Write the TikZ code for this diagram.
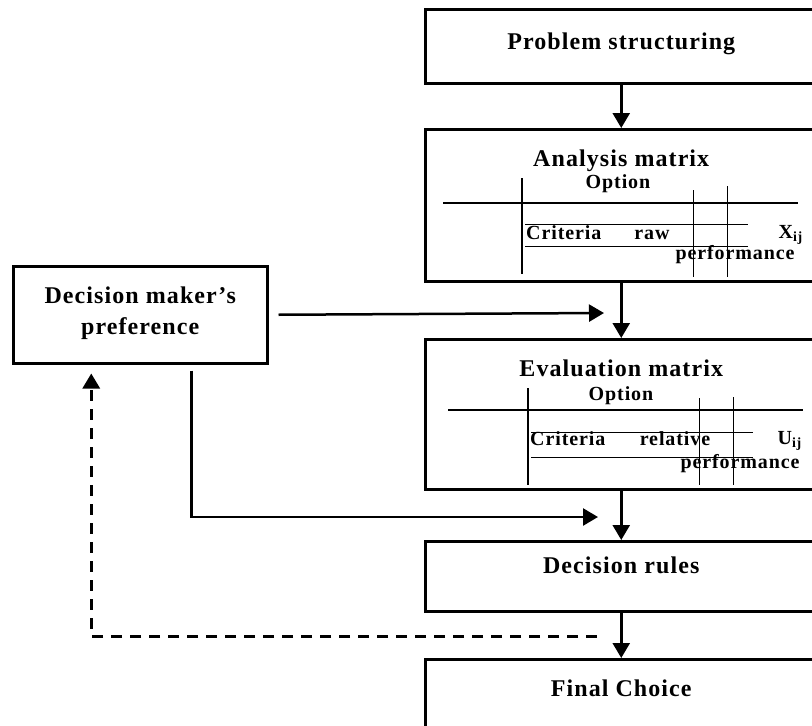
\documentclass[tikz,border=0pt]{standalone}
\usepackage{fontspec}
\setmainfont{Liberation Serif}[LetterSpace=4.5]
\usetikzlibrary{calc}
\usetikzlibrary{arrows.meta}
\newcommand\boxfont[0]{\fontsize{24}{31}\selectfont\bfseries}
\newcommand\cellfont[0]{\fontsize{20}{24}\selectfont\bfseries}

\begin{document}
\begin{tikzpicture} [x=1pt,y=-1pt,
  box/.style={draw,line width=2.5pt,minimum width=392pt,inner sep=0pt,anchor=north west,font=\boxfont},
  flow/.style={line width=2.5pt,-{Triangle[width=17pt,length=15pt]}},
  cell/.style={inner sep=0pt,anchor=base,font=\cellfont},
  rule/.style={line width=2.6pt},
  grid/.style={line width=1pt}]

\useasboundingbox (0,0) rectangle (812,726);
\clip (0,0) rectangle (812,726);

\node[box,text height=40pt,text depth=34pt] (prob) at (424,8) {Problem structuring};
\node[box,text height=37pt,text depth=115pt] (ana) at (424,128) {Analysis matrix};
\node[box,text height=37pt,text depth=113pt] (eva) at (424,338) {Evaluation matrix};
\node[box,text height=32pt,text depth=38pt] (rules) at (424,540) {Decision rules};
\node[box,text height=37pt,text depth=50pt] (final) at (424,658) {Final Choice};
\node[box,minimum width=254pt,align=center,text height=68pt,text depth=29pt] (pref) at (12,265) {Decision maker's\\preference};

\draw[rule] (443,203) -- (798,203);
\draw[rule] (522,178) -- (522,274);
\draw[grid] (525,224) -- (748,224) (525,246) -- (748,246);
\draw[grid] (693,190) -- (693,277) (727,186) -- (727,277);
\node[cell] (opt1) at (618,188) {Option};
\node[cell,anchor=base west] (crit1) at (526,239) {Criteria};
\node[cell] (raw) at (652,239) {raw};
\node[cell,anchor=base east] (xij) at (803,238) {X\textsubscript{ij}};
\node[cell] (perf1) at (735,259) {performance};

\draw[rule] (448,410) -- (803,410);
\draw[rule] (528,388) -- (528,485);
\draw[grid] (531,432) -- (753,432) (531,457) -- (753,457);
\draw[grid] (699,398) -- (699,485) (733,397) -- (733,485);
\node[cell] (opt2) at (621,400) {Option};
\node[cell,anchor=base west] (crit2) at (530,445) {Criteria};
\node[cell] (rel) at (675,445) {relative};
\node[cell,anchor=base east] (uij) at (802,444) {U\textsubscript{ij}};
\node[cell] (perf2) at (740,468) {performance};

\coordinate (in1) at (604,313);
\coordinate (out2) at ($(pref.south)+(51,6)$);
\coordinate (in2) at (598,517);
\coordinate (back) at (597,636);
\coordinate (ret) at ($(pref.south)+(-49,9)$);

\draw[flow] (prob.south) -- (ana.north);
\draw[flow] (ana.south) -- (eva.north);
\draw[flow] (eva.south) -- (rules.north);
\draw[flow] (rules.south) -- (final.north);
\draw[flow] ($(pref.east)+(10,0)$) -- (in1);
\draw[flow] (out2) |- (in2);
\draw[flow,line width=3pt,dash pattern=on 11pt off 8pt] (back) -| (ret);

\end{tikzpicture}
\end{document}
